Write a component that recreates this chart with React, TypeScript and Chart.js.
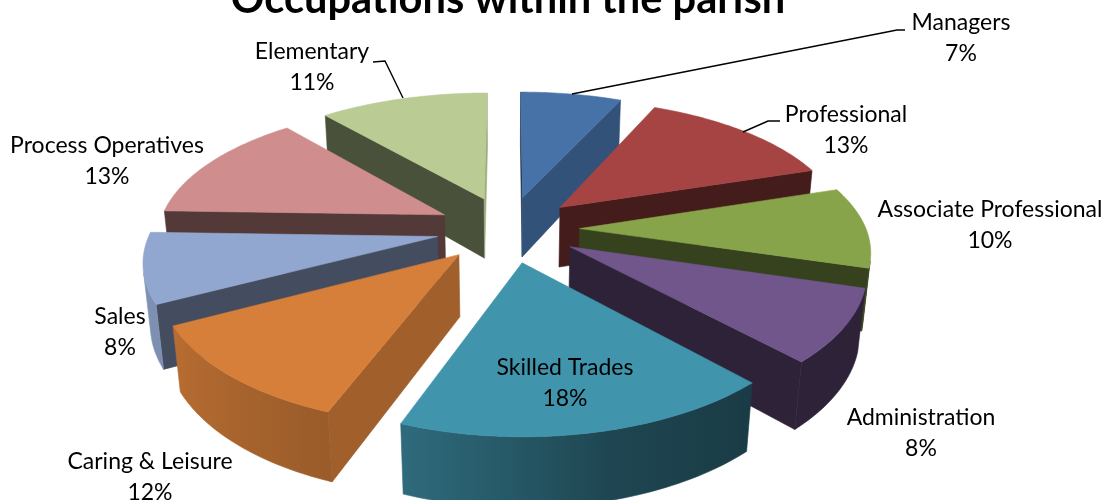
import React, { useEffect, useRef } from "react";
import { Chart, registerables } from "chart.js";

Chart.register(...registerables);

const categories = ["Managers", "Professional", "Associate Professional", "Administration", "Skilled Trades", "Caring & Leisure", "Sales", "Process Operatives", "Elementary"];
const values = [6.7, 13.3, 9.6, 8.4, 17.7, 11.6, 8.2, 13.3, 11.2];
const sliceColours = ["#4672A8", "#A54442", "#87A44A", "#71568C", "#4094AC", "#D67F3A", "#92A7CF", "#CF8E8D", "#BACB93"];
const titleText = "Occupations within the parish";

const SHIFT = 40; // the title overflows the top of the page
const W = 1105;
const H = 500 + SHIFT;
const FONT = "Lato";

// Perspective view of the pie plane
const view = { cx: 508, cy: 229 + SHIFT, a: 286.5, b: 132.6, k: 0.165, kx: 0.15, skew: -2, q: 0.02, d: 62 };
const PIE_RADIUS = 200;
const EXPLODE = 200;

const labelAnchors = [
  [961, 23], [846, 115], [990, 210], [921, 418], [565, 368], [150, 462], [120, 317], [107, 146], [312, 52],
];
const leaders = [
  [[572, 94], [897, 30], [905, 30]],
  [[743, 132], [768, 121], [780, 121]],
  null, null, null, null, null, null,
  [[403, 98], [385, 61], [373, 62]],
];

const lerpTable = (t: number[][], x: number) => {
  if (x <= t[0][0]) return t[0][1];
  for (let i = 1; i < t.length; i++) {
    if (x <= t[i][0]) {
      const [x0, y0] = t[i - 1];
      const [x1, y1] = t[i];
      return y0 + ((y1 - y0) * (x - x0)) / (x1 - x0);
    }
  }
  return t[t.length - 1][1];
};
const cutShade = [[90, 0.85], [110, 0.75], [114, 0.72], [152, 0.46], [162, 0.41], [180, 0.4], [360, 0.4]];
const rimShade = [[137, 0.4], [165, 0.47], [180, 0.58], [200, 0.72], [242, 0.86], [270, 0.88], [360, 0.88]];

const shade = (hex: string, f: number) => {
  const n = parseInt(hex.slice(1), 16);
  return `rgb(${Math.round((n >> 16) * f)},${Math.round(((n >> 8) & 255) * f)},${Math.round((n & 255) * f)})`;
};

const project = (X: number, Y: number, low: boolean) => {
  const extra = low ? view.q : 0;
  const w = 1 - view.k * Y + extra;
  const wx = 1 - view.kx * Y + extra;
  return [view.cx + (view.a * X) / wx + view.skew * Math.max(Y, 0), view.cy + (view.b * Y + (low ? view.d : 0)) / w];
};
const area = (pts: number[][]) => {
  let s = 0;
  pts.forEach((p, i) => {
    const q = pts[(i + 1) % pts.length];
    s += p[0] * q[1] - q[0] * p[1];
  });
  return s / 2;
};
const tracePoly = (ctx: CanvasRenderingContext2D, pts: number[][]) => {
  ctx.beginPath();
  pts.forEach((p, i) => (i ? ctx.lineTo(p[0], p[1]) : ctx.moveTo(p[0], p[1])));
  ctx.closePath();
};
const fillPoly = (ctx: CanvasRenderingContext2D, pts: number[][], colour: any) => {
  tracePoly(ctx, pts);
  ctx.fillStyle = colour;
  ctx.strokeStyle = colour;
  ctx.lineWidth = 0.6;
  ctx.fill();
  ctx.stroke();
};

const pie3d = {
  id: "pie3d",
  beforeDatasetDraw(chart: any, args: any) {
    const ctx: CanvasRenderingContext2D = chart.ctx;
    const arcs = args.meta.data.map((el: any, index: number) => {
      const p = el.getProps(["startAngle", "endAngle", "outerRadius"], true);
      const s = p.startAngle + Math.PI / 2;
      const t = p.endAngle + Math.PI / 2;
      const mid = (s + t) / 2;
      const e = (el.options.offset || 0) / 4 / p.outerRadius;
      return { s, t, mid, e, colour: el.options.backgroundColor, index };
    });
    arcs.sort((a: any, b: any) => -Math.cos(a.mid) + Math.cos(b.mid));
    for (const arc of arcs) {
      const ox = arc.e * Math.sin(arc.mid);
      const oy = -arc.e * Math.cos(arc.mid);
      const rimAt = (th: number, low: boolean) => project(ox + Math.sin(th), oy - Math.cos(th), low);
      const apexT = project(ox, oy, false);
      const apexB = project(ox, oy, true);
      const steps = Math.max(2, Math.ceil(((arc.t - arc.s) * 180) / Math.PI));
      const angles = Array.from({ length: steps + 1 }, (_, i) => arc.s + ((arc.t - arc.s) * i) / steps);
      const deg = (r: number) => ((((r * 180) / Math.PI) % 360) + 360) % 360;

      const startQuad = [rimAt(arc.s, false), apexT, apexB, rimAt(arc.s, true)];
      if (area(startQuad) > 0) fillPoly(ctx, startQuad, shade(arc.colour, lerpTable(cutShade, deg(arc.s - Math.PI / 2))));
      const endQuad = [apexT, rimAt(arc.t, false), rimAt(arc.t, true), apexB];
      if (area(endQuad) > 0) fillPoly(ctx, endQuad, shade(arc.colour, lerpTable(cutShade, deg(arc.t + Math.PI / 2))));

      // The outer rim is one polygon per visible run, shaded by a sideways gradient.
      const visible = angles.filter((a, i) => {
        const near = i < steps ? [a, angles[i + 1]] : [angles[i - 1], a];
        return area([rimAt(near[1], false), rimAt(near[0], false), rimAt(near[0], true), rimAt(near[1], true)]) > 0;
      });
      if (visible.length > 1) {
        const top = visible.map((a) => rimAt(a, false));
        const bottom = visible.map((a) => rimAt(a, true)).reverse();
        const xs = top.map((p) => p[0]);
        const x0 = Math.min(...xs);
        const x1 = Math.max(...xs);
        const grad = ctx.createLinearGradient(x0, 0, x1, 0);
        visible.forEach((a, i) => {
          grad.addColorStop((xs[i] - x0) / Math.max(1, x1 - x0), shade(arc.colour, lerpTable(rimShade, deg(a))));
        });
        fillPoly(ctx, [...top, ...bottom], grad);
      }
      fillPoly(ctx, [apexT, ...angles.map((a) => rimAt(a, false))], arc.colour);
    }
    return false;
  },
  afterDatasetsDraw(chart: any) {
    const ctx: CanvasRenderingContext2D = chart.ctx;
    const data = chart.data.datasets[0].data as number[];
    const total = data.reduce((a, b) => a + b, 0);
    ctx.save();
    ctx.strokeStyle = "#000";
    ctx.lineWidth = 1.4;
    leaders.forEach((line) => {
      if (!line) return;
      ctx.beginPath();
      line.forEach((p, i) => (i ? ctx.lineTo(p[0], p[1] + SHIFT) : ctx.moveTo(p[0], p[1] + SHIFT)));
      ctx.stroke();
    });
    ctx.fillStyle = "#000";
    ctx.font = `23px ${FONT}`;
    ctx.textAlign = "center";
    ctx.textBaseline = "middle";
    categories.forEach((name, i) => {
      const [x, y] = labelAnchors[i];
      ctx.fillText(name, x, y + SHIFT);
      ctx.fillText(`${Math.round((data[i] / total) * 100)}%`, x, y + 30.5 + SHIFT);
    });
    ctx.restore();
  },
};

export default function App() {
  const ref = useRef<HTMLCanvasElement>(null);
  useEffect(() => {
    const chart = new Chart(ref.current as HTMLCanvasElement, {
      type: "pie",
      data: {
        labels: categories,
        datasets: [{ data: values, backgroundColor: sliceColours, offset: EXPLODE, borderWidth: 0 }],
      },
      options: {
        responsive: false,
        animation: false,
        radius: PIE_RADIUS,
        rotation: 0,
        layout: { padding: { right: 89 } },
        plugins: {
          legend: { display: false },
          tooltip: { enabled: false },
          title: {
            display: true,
            text: titleText,
            fullSize: false,
            color: "#000",
            font: { family: FONT, size: 41.6, weight: "bold", lineHeight: 1.2 },
            padding: { top: 15, bottom: 0 },
          },
        },
      } as any,
      plugins: [pie3d],
    });
    return () => chart.destroy();
  }, []);
  return (
    <div style={{ position: "absolute", left: 0, top: 0, width: W, height: 500, overflow: "hidden", background: "#fff" }}>
      <canvas ref={ref} width={W} height={H} style={{ display: "block", marginTop: -SHIFT, width: W, height: H }} />
    </div>
  );
}
